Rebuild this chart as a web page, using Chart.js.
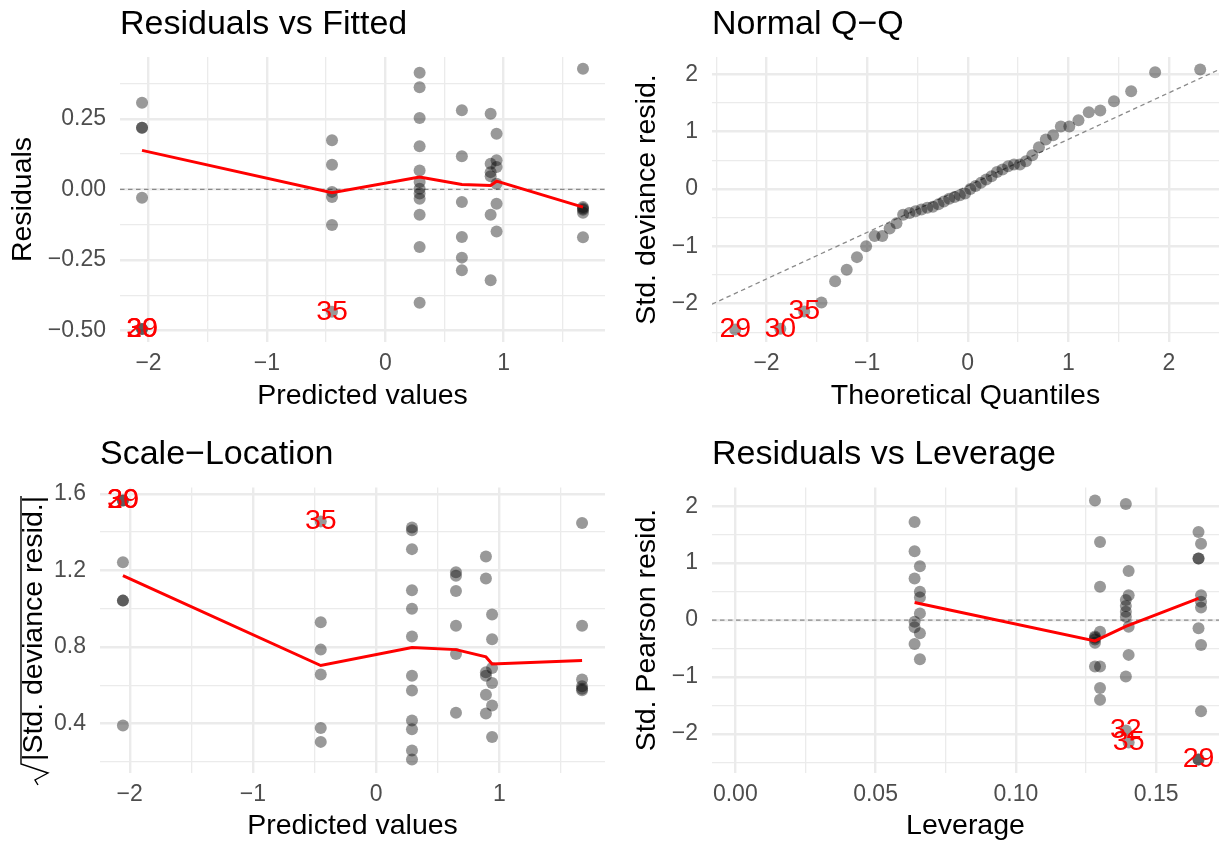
<!DOCTYPE html>
<html>
<head>
<meta charset="utf-8">
<title>GLM diagnostics</title>
<script src="https://cdn.jsdelivr.net/npm/chart.js@4.4.1/dist/chart.umd.min.js"></script>
<style>
  html, body { margin: 0; padding: 0; background: #fff; overflow: hidden; }
  canvas { position: absolute; }
</style>
</head>
<body>
<canvas id="rvf" width="612" height="420" style="left:0;top:0"></canvas>
<canvas id="qq" width="613" height="420" style="left:612px;top:0"></canvas>
<canvas id="sl" width="612" height="424" style="left:0;top:420px"></canvas>
<canvas id="rvl" width="613" height="424" style="left:612px;top:420px"></canvas>
<script>
// fitted values, grouped by design cell
const fitted = [
  -2.055, -2.055, -2.055, -2.055, -2.055, -2.055,
  -0.45, -0.45, -0.45, -0.45, -0.45, -0.45,
  0.29, 0.29, 0.29, 0.29, 0.29, 0.29, 0.29, 0.29, 0.29, 0.29, 0.29, 0.29,
  0.647, 0.647, 0.647, 0.647, 0.647, 0.647,
  0.89, 0.89, 0.89, 0.89, 0.89, 0.89,
  0.94, 0.94, 0.94, 0.94, 0.94, 0.94,
  1.67, 1.67, 1.67, 1.67, 1.67, 1.67
];
const residuals = [
  0.307, 0.218, 0.218, -0.03, -0.495, -0.495,
  0.174, 0.087, -0.009, -0.027, -0.126, -0.434,
  0.413, 0.362, 0.253, 0.153, 0.067, 0.026, 0.002, -0.015, -0.033, -0.09, -0.204, -0.402,
  0.28, 0.117, -0.045, -0.169, -0.242, -0.287,
  0.268, 0.091, 0.061, 0.046, -0.09, -0.322,
  0.197, 0.103, 0.079, 0.02, -0.051, -0.149,
  0.427, -0.063, -0.068, -0.072, -0.083, -0.17
];
const sqrtStdResid = [
  1.565, 1.565, 1.242, 1.042, 1.042, 0.39,
  1.456, 0.929, 0.786, 0.656, 0.376, 0.304,
  1.424, 1.409, 1.311, 1.096, 1.0, 0.854, 0.65, 0.572, 0.416, 0.37, 0.259, 0.212,
  1.19, 1.172, 1.092, 0.911, 0.763, 0.456,
  1.273, 1.158, 0.668, 0.65, 0.55, 0.452,
  0.97, 0.84, 0.69, 0.612, 0.494, 0.329,
  1.447, 0.911, 0.63, 0.595, 0.581, 0.574
];
const leverage = [
  0.0639, 0.0639, 0.0658, 0.0639, 0.0658, 0.0658, 0.0658, 0.0639, 0.0639, 0.0658, 0.0639, 0.0658,
  0.1282, 0.130, 0.130, 0.130, 0.1282, 0.1282, 0.1282, 0.1282, 0.1282, 0.130, 0.130, 0.130,
  0.1392, 0.1402, 0.1402, 0.1392, 0.1392, 0.1392, 0.1392, 0.1402, 0.1402, 0.1392, 0.1392, 0.1402,
  0.1651, 0.166, 0.1651, 0.1651, 0.166, 0.166, 0.166, 0.1651, 0.166, 0.166, 0.1651, 0.1651
];
const pearsonResid = [
  1.72, 1.207, 0.945, 0.729, 0.496, 0.397, 0.117, -0.029, -0.128, -0.233, -0.42, -0.688,
  2.10, 1.37, 0.583, -0.204, -0.29, -0.31, -0.34, -0.40, -0.817, -0.817, -1.195, -1.4,
  2.04, 0.863, 0.437, 0.35, 0.245, 0.146, 0.058, -0.117, -0.612, -0.992, -1.94, -2.15,
  1.545, 1.342, 1.08, 1.08, 0.437, 0.32, 0.222, -0.146, -0.437, -1.604, -2.45, -2.45
];
const theoreticalQ = [
  -2.311, -1.863, -1.625, -1.454, -1.318, -1.203, -1.101, -1.010, -0.926, -0.849, -0.776, -0.708,
  -0.642, -0.579, -0.519, -0.460, -0.402, -0.346, -0.291, -0.237, -0.184, -0.131, -0.078, -0.026,
  0.026, 0.078, 0.131, 0.184, 0.237, 0.291, 0.346, 0.402, 0.460, 0.519, 0.579, 0.642,
  0.708, 0.776, 0.849, 0.926, 1.010, 1.101, 1.203, 1.318, 1.454, 1.625, 1.863, 2.311
];
const sampleQ = [
  -2.45, -2.44, -2.14, -1.98, -1.61, -1.41, -1.19, -1.00, -0.82, -0.82, -0.69, -0.60,
  -0.45, -0.42, -0.39, -0.36, -0.33, -0.31, -0.27, -0.22, -0.17, -0.14, -0.11, -0.08,
  0.00, 0.05, 0.105, 0.163, 0.221, 0.296, 0.338, 0.395, 0.425, 0.425, 0.483, 0.587,
  0.727, 0.86, 0.935, 1.087, 1.087, 1.197, 1.336, 1.366, 1.528, 1.702, 2.033, 2.08
];

// smoothers and reference lines
const smoothFitted = [-2.055, -0.45, 0.29, 0.647, 0.89, 0.94, 1.67];
const smoothResid = [0.138, -0.012, 0.044, 0.017, 0.014, 0.029, -0.063];
const smoothScale = [1.172, 0.703, 0.797, 0.786, 0.748, 0.711, 0.729];
const smoothLeverage = [0.0639, 0.1282, 0.1392, 0.1651];
const smoothPearson = [0.309, -0.367, -0.11, 0.379];
const qqLineX = [-2.542, 2.498];
const qqLineY = [-2.01, 2.08];

// labelled observations
const rvfLabelIds = ['29', '30', '35'];
const rvfLabelX = [-2.055, -2.055, -0.45];
const rvfLabelY = [-0.495, -0.495, -0.434];
const qqLabelIds = ['29', '30', '35'];
const qqLabelX = [-2.311, -1.863, -1.625];
const qqLabelY = [-2.45, -2.44, -2.14];
const slLabelIds = ['29', '30', '35'];
const slLabelX = [-2.055, -2.055, -0.45];
const slLabelY = [1.565, 1.565, 1.456];
const rvlLabelIds = ['32', '35', '29'];
const rvlLabelX = [0.1392, 0.1402, 0.1651];
const rvlLabelY = [-1.94, -2.15, -2.45];

// axis breaks
const fittedMajor = [-2, -1, 0, 1];
const fittedMinor = [-1.5, -0.5, 0.5, 1.5];
const residMajor = [-0.5, -0.25, 0, 0.25];
const residMinor = [-0.375, -0.125, 0.125, 0.375];
const unitMajor = [-2, -1, 0, 1, 2];
const unitMinor = [-2.5, -1.5, -0.5, 0.5, 1.5];
const scaleMajor = [0.4, 0.8, 1.2, 1.6];
const scaleMinor = [0.2, 0.6, 1.0, 1.4];
const leverageMajor = [0, 0.05, 0.1, 0.15];
const leverageMinor = [0.025, 0.075, 0.125];

const FONT = '"Liberation Sans", Arial, Helvetica, sans-serif';
Chart.defaults.font.family = FONT;

function pts(xs, ys) {
  return xs.map((x, i) => ({ x: x, y: ys[i] }));
}

function fmt(v, decimals) {
  return (v < 0 ? '\u2212' : '') + Math.abs(v).toFixed(decimals);
}

// one axis in the ggplot minimal style: major + minor grid, no ticks
function axis(o) {
  const horizontal = o.horizontal;
  return {
    type: 'linear',
    min: o.min,
    max: o.max,
    border: { display: false },
    grid: {
      color: '#ebebeb',
      drawTicks: false,
      lineWidth: c => (c.tick && c.tick.minor ? 1.3 : 2.4)
    },
    afterBuildTicks: s => {
      s.ticks = o.major.map(v => ({ value: v }))
        .concat(o.minor.map(v => ({ value: v, minor: true })))
        .sort((a, b) => a.value - b.value);
    },
    afterFit: s => {
      if (horizontal) s.height = o.size; else s.width = o.size;
    },
    ticks: {
      autoSkip: false,
      maxRotation: 0,
      padding: horizontal ? 8 : 14,
      color: '#4d4d4d',
      font: { size: 23 },
      callback: (v, i, t) => (t[i].minor ? '' : fmt(v, o.decimals))
    },
    title: {
      display: !!o.title,
      text: o.title || '',
      color: '#000',
      font: { size: 28.5, lineHeight: 1 },
      padding: horizontal ? { top: 0, bottom: o.titlePad } : { top: o.titlePad, bottom: 0 }
    }
  };
}

// panel title above the plot area and red id labels on top of the marks
const panelText = {
  id: 'panelText',
  afterDatasetsDraw(chart, args, opts) {
    const ctx = chart.ctx;
    const x = chart.scales.x, y = chart.scales.y;
    ctx.save();
    ctx.font = '28.5px ' + FONT;
    ctx.fillStyle = '#ff0000';
    ctx.textAlign = 'center';
    ctx.textBaseline = 'middle';
    opts.ids.forEach((id, i) => {
      ctx.fillText(id, x.getPixelForValue(opts.xs[i]), y.getPixelForValue(opts.ys[i]));
    });
    ctx.restore();
  },
  afterDraw(chart, args, opts) {
    const ctx = chart.ctx;
    ctx.save();
    ctx.font = '34px ' + FONT;
    ctx.fillStyle = '#000';
    ctx.textAlign = 'left';
    ctx.textBaseline = 'alphabetic';
    ctx.fillText(opts.title, chart.chartArea.left, chart.chartArea.top - 23.5);
    ctx.restore();
  }
};
Chart.register(panelText);

// y title of the scale-location panel: text under a radical sign
const sqrtTitle = {
  id: 'sqrtTitle',
  afterDraw(chart) {
    const ctx = chart.ctx;
    const text = '|Std. deviance resid.|';
    ctx.save();
    ctx.translate(34, 341);
    ctx.rotate(-Math.PI / 2);
    ctx.font = '28.5px ' + FONT;
    ctx.fillStyle = '#000';
    ctx.textAlign = 'left';
    ctx.textBaseline = 'middle';
    const w = ctx.measureText(text).width;
    ctx.fillText(text, 0, 0);
    ctx.strokeStyle = '#000';
    ctx.lineWidth = 1.4;
    ctx.lineJoin = 'miter';
    ctx.beginPath();
    ctx.moveTo(-24, 4);
    ctx.lineTo(-19, 1);
    ctx.lineTo(-12, 14);
    ctx.lineTo(-3, -13);
    ctx.lineTo(w, -13);
    ctx.stroke();
    ctx.restore();
  }
};

const POINT = 'rgba(0,0,0,0.4)';

function points(xs, ys) {
  return {
    data: pts(xs, ys),
    backgroundColor: POINT,
    borderWidth: 0,
    pointRadius: 6,
    pointHoverRadius: 6,
    order: 1
  };
}

function smooth(xs, ys) {
  return {
    data: pts(xs, ys),
    showLine: true,
    borderColor: '#ff0000',
    borderWidth: 3,
    pointRadius: 0,
    tension: 0,
    order: 0
  };
}

function dashed(xs, ys) {
  return {
    data: pts(xs, ys),
    showLine: true,
    borderColor: '#8a8a8a',
    borderWidth: 1.3,
    borderDash: [4.5, 3.5],
    pointRadius: 0,
    order: 2
  };
}

function panel(id, cfg) {
  return new Chart(document.getElementById(id), {
    type: 'scatter',
    data: { datasets: cfg.datasets },
    options: {
      responsive: false,
      animation: false,
      events: [],
      layout: { padding: { top: cfg.top, right: cfg.right, left: 0, bottom: 0 } },
      plugins: {
        legend: { display: false },
        tooltip: { enabled: false },
        panelText: { title: cfg.title, ids: cfg.ids, xs: cfg.lx, ys: cfg.ly }
      },
      scales: { x: cfg.x, y: cfg.y }
    },
    plugins: cfg.plugins || []
  });
}

panel('rvf', {
  title: 'Residuals vs Fitted',
  top: 57, right: 7,
  ids: rvfLabelIds, lx: rvfLabelX, ly: rvfLabelY,
  datasets: [
    smooth(smoothFitted, smoothResid),
    points(fitted, residuals),
    dashed([-2.241, 1.856], [0, 0])
  ],
  x: axis({ horizontal: true, min: -2.241, max: 1.856, major: fittedMajor, minor: fittedMinor,
            decimals: 0, size: 78, title: 'Predicted values', titlePad: 10 }),
  y: axis({ horizontal: false, min: -0.541, max: 0.469, major: residMajor, minor: residMinor,
            decimals: 2, size: 120, title: 'Residuals', titlePad: 8.75 })
});

panel('qq', {
  title: 'Normal Q\u2212Q',
  top: 57, right: 0,
  ids: qqLabelIds, lx: qqLabelX, ly: qqLabelY,
  datasets: [
    points(theoreticalQ, sampleQ),
    dashed(qqLineX, qqLineY)
  ],
  x: axis({ horizontal: true, min: -2.542, max: 2.498, major: unitMajor, minor: unitMinor,
            decimals: 0, size: 78, title: 'Theoretical Quantiles', titlePad: 10 }),
  y: axis({ horizontal: false, min: -2.67, max: 2.30, major: unitMajor, minor: unitMinor,
            decimals: 0, size: 100, title: 'Std. deviance resid.', titlePad: 20.5 })
});

panel('sl', {
  title: 'Scale\u2212Location',
  top: 67.5, right: 7,
  ids: slLabelIds, lx: slLabelX, ly: slLabelY,
  datasets: [
    smooth(smoothFitted, smoothScale),
    points(fitted, sqrtStdResid)
  ],
  x: axis({ horizontal: true, min: -2.241, max: 1.856, major: fittedMajor, minor: fittedMinor,
            decimals: 0, size: 71.5, title: 'Predicted values', titlePad: 3.5 }),
  y: axis({ horizontal: false, min: 0.144, max: 1.633, major: scaleMajor, minor: scaleMinor,
            decimals: 1, size: 100, title: '', titlePad: 0 }),
  plugins: [sqrtTitle]
});

panel('rvl', {
  title: 'Residuals vs Leverage',
  top: 67.5, right: 0,
  ids: rvlLabelIds, lx: rvlLabelX, ly: rvlLabelY,
  datasets: [
    smooth(smoothLeverage, smoothPearson),
    points(leverage, pearsonResid),
    dashed([-0.0083, 0.1724], [0, 0])
  ],
  x: axis({ horizontal: true, min: -0.0083, max: 0.1724, major: leverageMajor, minor: leverageMinor,
            decimals: 2, size: 71.5, title: 'Leverage', titlePad: 3.5 }),
  y: axis({ horizontal: false, min: -2.678, max: 2.328, major: unitMajor, minor: unitMinor,
            decimals: 0, size: 100, title: 'Std. Pearson resid.', titlePad: 20.5 })
});
</script>
</body>
</html>
